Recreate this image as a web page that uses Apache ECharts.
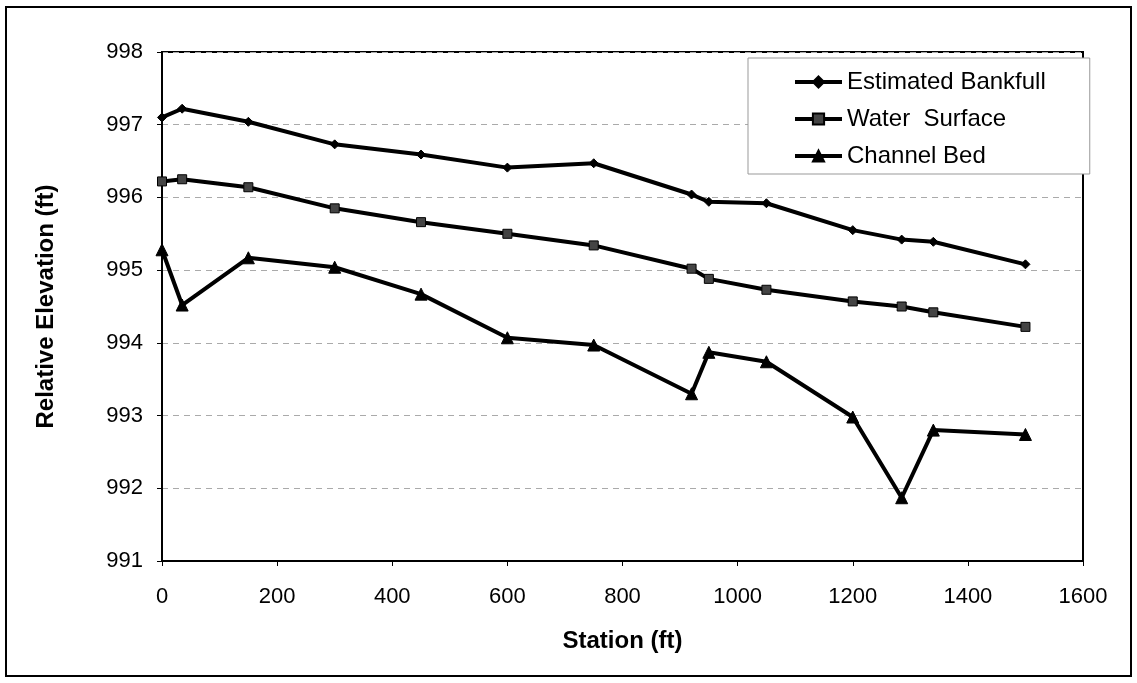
<!DOCTYPE html>
<html>
<head>
<meta charset="utf-8">
<title>Relative Elevation</title>
<script src="https://cdn.jsdelivr.net/npm/echarts@6/dist/echarts.min.js"></script>
<style>
	html, body{
		margin:0;
		padding:0;
		background:#fff;
	}
	#chartMain{
		width:1137px;
		height:683px;
	}
</style>
</head>
<body>
<div id="chartMain"></div>
<script>
// station (ft) of each survey point
var stations = [0, 35, 150, 300, 450, 600, 750, 920, 950, 1050, 1200, 1285, 1340, 1500];
// elevations
var bankfull = [997.10, 997.22, 997.04, 996.73, 996.59, 996.41, 996.47, 996.04, 995.94, 995.92, 995.55, 995.42, 995.39, 995.08];
var waterSurface = [996.22, 996.25, 996.14, 995.85, 995.66, 995.50, 995.34, 995.02, 994.88, 994.73, 994.57, 994.50, 994.42, 994.22];
var channelBed = [995.28, 994.52, 995.17, 995.04, 994.67, 994.07, 993.97, 993.30, 993.87, 993.74, 992.98, 991.87, 992.80, 992.74];
var seriesNames = ['Estimated Bankfull', 'Water  Surface', 'Channel Bed'];
var xTicks = [0, 200, 400, 600, 800, 1000, 1200, 1400, 1600];
var yTicks = [991, 992, 993, 994, 995, 996, 997, 998];

var fontName = '"Liberation Sans", Arial, sans-serif';

function pairs(xs, ys){
	var out = [];
	for (var i = 0; i < xs.length; i++) {
		out.push([xs[i], ys[i]]);
	}
	return out;
}

function lineSeries(name, values, symbol, size, fill){
	return {
		name: name,
		type: 'line',
		data: pairs(stations, values),
		symbol: symbol,
		symbolSize: size,
		lineStyle: { color: '#000', width: 4 },
		itemStyle: { color: fill, borderColor: '#000', borderWidth: 1 },
		emphasis: { disabled: true },
		animation: false
	};
}

var chartMain = echarts.init(document.getElementById('chartMain'));
chartMain.setOption({
	animation: false,
	textStyle: { fontFamily: fontName, color: '#000' },
	graphic: [{
		type: 'rect',
		shape: { x: 6, y: 7, width: 1125, height: 669 },
		style: { fill: 'none', stroke: '#000', lineWidth: 2 },
		z: -1
	}],
	grid: {
		left: 162,
		top: 52,
		right: 54,
		bottom: 122,
		show: true,
		borderColor: '#000',
		borderWidth: 2,
		backgroundColor: '#fff'
	},
	legend: {
		orient: 'vertical',
		left: 748,
		top: 58,
		data: seriesNames,
		itemWidth: 47,
		itemHeight: 14,
		itemGap: 13,
		padding: [12, 44, 6, 45],
		backgroundColor: '#fff',
		borderColor: '#999',
		borderWidth: 1,
		lineStyle: { width: 4, color: '#000' },
		textStyle: { fontSize: 24, color: '#000', fontFamily: fontName }
	},
	xAxis: {
		type: 'value',
		min: xTicks[0],
		max: xTicks[xTicks.length - 1],
		interval: 200,
		name: 'Station (ft)',
		nameLocation: 'middle',
		nameGap: 68,
		nameTextStyle: { fontSize: 24, fontWeight: 'bold', color: '#000', fontFamily: fontName },
		axisLine: { lineStyle: { color: '#000', width: 2 } },
		axisTick: { show: true, length: 5, lineStyle: { color: '#000', width: 1 } },
		axisLabel: {
			fontSize: 22,
			color: '#000',
			margin: 25,
			formatter: function(v){ return String(v); }
		},
		splitLine: { show: false }
	},
	yAxis: {
		type: 'value',
		min: yTicks[0],
		max: yTicks[yTicks.length - 1],
		interval: 1,
		name: 'Relative Elevation (ft)',
		nameLocation: 'middle',
		nameGap: 104,
		nameRotate: 90,
		nameTextStyle: { fontSize: 24, fontWeight: 'bold', color: '#000', fontFamily: fontName },
		axisLine: { show: true, lineStyle: { color: '#000', width: 2 } },
		axisTick: { show: true, length: 5, lineStyle: { color: '#000', width: 1 } },
		axisLabel: {
			fontSize: 22,
			color: '#000',
			margin: 19,
			formatter: function(v){ return String(v); }
		},
		splitLine: { show: true, lineStyle: { color: '#aaa', width: 1, type: [6, 5] } }
	},
	series: [
		lineSeries(seriesNames[0], bankfull, 'diamond', 9, '#000'),
		lineSeries(seriesNames[1], waterSurface, 'rect', 9, '#444'),
		lineSeries(seriesNames[2], channelBed, 'triangle', 12, '#000')
	]
});
</script>
</body>
</html>
